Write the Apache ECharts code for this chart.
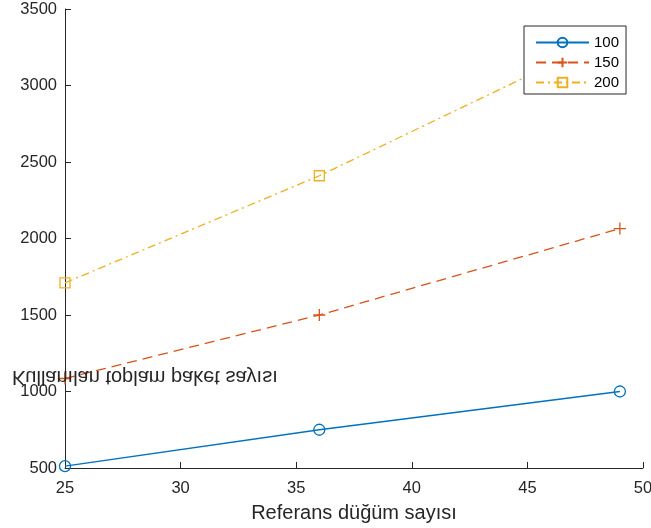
<!DOCTYPE html>
<html>
<head>
<meta charset="utf-8">
<script src="https://cdn.jsdelivr.net/npm/echarts@6/dist/echarts.min.js"></script>
<style>
html,body{margin:0;padding:0;background:#fff;}
#chart{width:651px;height:528px;}
</style>
</head>
<body>
<div id="chart"></div>
<script>
const xValues = [25, 36, 49];
const series100 = [512, 750, 1000];
const series150 = [1085, 1500, 2065];
const series200 = [1710, 2410, 3350];
const seriesNames = ['100', '150', '200'];
const xTicks = {min: 25, max: 50, interval: 5};
const yTicks = {min: 500, max: 3500, interval: 500};
const xLabel = 'Referans düğüm sayısı';
const yLabel = 'Kullanılan toplam paket sayısı';

const axisColor = '#262626';
const font = 'Liberation Sans, Arial, sans-serif';
const toPairs = vals => xValues.map((x, i) => [x, vals[i]]);

const chart = echarts.init(document.getElementById('chart'), null, {renderer: 'canvas'});
chart.setOption({
  animation: false,
  backgroundColor: '#fff',
  grid: {left: 65, right: 8, top: 9, bottom: 60, containLabel: false, outerBoundsMode: 'none'},
  xAxis: {
    type: 'value', min: xTicks.min, max: xTicks.max, interval: xTicks.interval,
    name: xLabel, nameLocation: 'middle', nameGap: 35,
    nameTextStyle: {color: axisColor, fontSize: 20, fontFamily: font},
    axisLine: {show: true, lineStyle: {color: axisColor, width: 1}},
    axisTick: {show: true, inside: true, length: 6, lineStyle: {color: axisColor}},
    axisLabel: {color: axisColor, fontSize: 16.5, fontFamily: font, margin: 12,
      formatter: v => String(v)},
    splitLine: {show: false}
  },
  yAxis: {
    type: 'value', min: yTicks.min, max: yTicks.max, interval: yTicks.interval,
    axisLine: {show: true, lineStyle: {color: axisColor, width: 1}},
    axisTick: {show: true, inside: true, length: 6, lineStyle: {color: axisColor}},
    axisLabel: {color: axisColor, fontSize: 16.5, fontFamily: font, margin: 8,
      padding: [7, 0, 0, 0], formatter: v => String(v)},
    splitLine: {show: false}
  },
  legend: {
    orient: 'vertical', left: 524, top: 26,
    backgroundColor: '#fff', borderColor: axisColor, borderWidth: 1,
    padding: [9, 7, 4, 11], itemGap: 5, itemWidth: 53, itemHeight: 12,
    textStyle: {color: '#000', fontSize: 15, fontFamily: font, lineHeight: 14},
    data: seriesNames
  },
  graphic: [{
    type: 'text', left: 12, top: 367, z: 100,
    scaleY: -1, originX: 0, originY: 11.5,
    style: {text: yLabel, fill: axisColor, font: '20px ' + font}
  }],
  series: [
    {
      name: seriesNames[0], type: 'line', data: toPairs(series100),
      color: '#0072BD', symbol: 'circle', symbolSize: 11,
      itemStyle: {color: 'rgba(0,0,0,0)', borderColor: '#0072BD', borderWidth: 1.3},
      lineStyle: {color: '#0072BD', width: 1.3, type: 'solid'}
    },
    {
      name: seriesNames[1], type: 'line', data: toPairs(series150),
      color: '#D95319', symbol: 'path://M5,0L5,10M0,5L10,5', symbolSize: 12, symbolKeepAspect: true,
      itemStyle: {color: 'rgba(0,0,0,0)', borderColor: '#D95319', borderWidth: 1.3},
      lineStyle: {color: '#D95319', width: 1.3, type: [10, 6]}
    },
    {
      name: seriesNames[2], type: 'line', data: toPairs(series200),
      color: '#EDB120', symbol: 'rect', symbolSize: 10,
      itemStyle: {color: 'rgba(0,0,0,0)', borderColor: '#EDB120', borderWidth: 1.3},
      lineStyle: {color: '#EDB120', width: 1.3, type: [8, 4, 2, 4]}
    }
  ]
});
</script>
</body>
</html>
